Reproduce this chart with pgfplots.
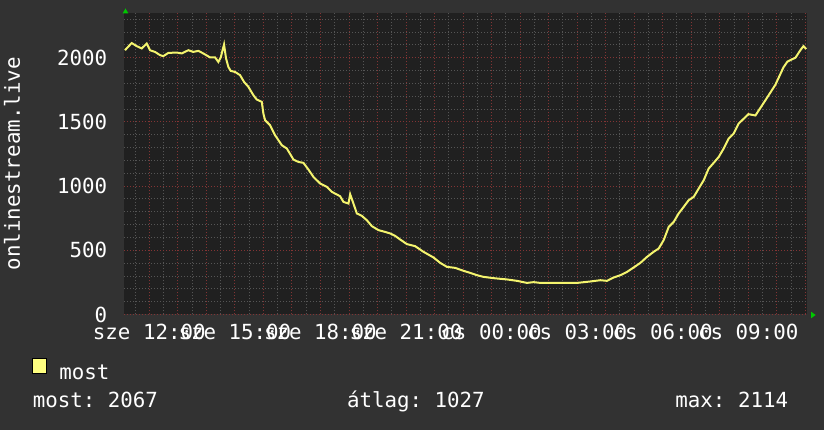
\documentclass[border=0pt]{standalone}
\usepackage{fontspec}
\setmainfont{DejaVu Sans Mono}
\usepackage{pgfplots}
\pgfplotsset{compat=1.18}
\frenchspacing
\definecolor{pagebg}{RGB}{50,50,50}
\definecolor{canvasbg}{RGB}{32,32,32}
\definecolor{mingrid}{RGB}{85,85,85}
\definecolor{majgrid}{RGB}{130,52,52}
\definecolor{lineyellow}{RGB}{244,244,110}
\definecolor{legyellow}{RGB}{255,255,128}
\definecolor{arrowgreen}{RGB}{0,200,0}
\newcommand\tickfont{\fontsize{20.8}{25}\selectfont}
\begin{document}
\begin{tikzpicture}
\fill[pagebg] (0pt,0pt) rectangle (824pt,430pt);
\begin{axis}[
  at={(124pt,115.5pt)}, anchor=south west, scale only axis,
  width=683pt, height=301.5pt,
  xmin=-0.887, xmax=23.06, ymin=0, ymax=2348,
  axis background/.style={fill=canvasbg},
  axis line style={draw=none},
  xtick={0,1,...,23},
  xticklabels={sze 12:00,,,sze 15:00,,,sze 18:00,,,sze 21:00,,,cs 00:00,,,cs 03:00,,,cs 06:00,,,cs 09:00,,},
  minor xtick={-0.5,0.5,...,22.5},
  ytick={0,500,1000,1500,2000},
  yticklabels={0,500,1000,1500,2000},
  minor ytick={100,200,...,2300},
  grid=both,
  major grid style={draw=majgrid, dash pattern=on 1pt off 2pt, line width=0.9pt},
  minor grid style={draw=mingrid, dash pattern=on 1pt off 2pt, line width=0.9pt},
  major tick length=0pt, minor tick length=0pt,
  tick style={draw=none},
  ticklabel style={font=\tickfont, text=white, inner sep=0pt},
  xticklabel style={anchor=north, yshift=-9.5pt},
  yticklabel style={anchor=east, xshift=-16.7pt},
  ylabel={onlinestream.live},
  every axis y label/.style={at={(axis description cs:-0.16398,0.5)}, rotate=90, anchor=center, font=\tickfont, text=white, inner sep=0pt},
  legend style={at={(axis description cs:-0.1347,-0.2206)}, anchor=south west, draw=none, fill=none, inner sep=0pt, outer sep=0pt, font=\tickfont, text=white, nodes={inner sep=0pt}, column sep=0pt},
  legend image code/.code={\draw[fill=legyellow, draw=black, line width=1pt] (0pt,-0.3pt) rectangle (14.5pt,14.7pt); \path (25.8pt,0pt);},
  clip=false,
]
\addplot[lineyellow, line width=2pt] table {
x y
-0.853 2058
-0.618 2114
-0.442 2090
-0.267 2072
-0.091 2110
0.025 2058
0.200 2045
0.375 2020
0.491 2012
0.667 2037
0.961 2040
1.137 2033
1.368 2058
1.544 2045
1.719 2053
1.895 2033
2.130 2002
2.305 2002
2.421 1967
2.505 2002
2.621 2103
2.691 1994
2.772 1928
2.856 1897
3.007 1889
3.182 1864
3.323 1811
3.474 1773
3.649 1708
3.768 1674
3.944 1656
4.000 1565
4.060 1513
4.235 1474
4.411 1396
4.646 1318
4.821 1293
5.053 1207
5.228 1188
5.404 1181
5.579 1129
5.754 1072
5.989 1020
6.225 994
6.400 955
6.691 921
6.807 877
6.982 864
7.042 937
7.137 877
7.277 787
7.453 768
7.628 734
7.804 688
8.035 657
8.270 643
8.446 631
8.621 612
8.796 584
9.032 548
9.323 532
9.614 488
9.965 444
10.200 402
10.435 371
10.726 363
11.018 340
11.253 324
11.488 306
11.719 293
12.070 283
12.540 273
12.891 262
13.242 246
13.474 252
13.709 246
14.411 246
14.996 246
15.463 257
15.814 267
16.049 262
16.281 288
16.516 306
16.751 332
16.982 366
17.218 402
17.453 449
17.684 488
17.860 514
18.035 579
18.211 682
18.386 721
18.561 787
18.737 838
18.912 890
19.088 916
19.263 981
19.439 1046
19.614 1137
19.789 1181
19.965 1227
20.140 1293
20.316 1371
20.491 1410
20.667 1488
20.786 1513
21.007 1560
21.252 1550
21.603 1669
21.954 1790
22.235 1925
22.375 1970
22.656 2000
22.832 2060
22.937 2090
23.030 2067
};
\addlegendentry{most}
\end{axis}
\fill[arrowgreen] (125.5pt,421.5pt) -- (122.7pt,416.7pt) -- (128.3pt,416.7pt) -- cycle;
\fill[arrowgreen] (815.7pt,115pt) -- (811pt,118.3pt) -- (811pt,111.7pt) -- cycle;
\node[anchor=base west, text=white, font=\tickfont, inner sep=0pt] at (32.6pt,22.7pt) {most: 2067};
\node[anchor=base west, text=white, font=\tickfont, inner sep=0pt] at (346.8pt,22.7pt) {átlag: 1027};
\node[anchor=base west, text=white, font=\tickfont, inner sep=0pt] at (675.2pt,22.7pt) {max: 2114};
\pgfresetboundingbox
\useasboundingbox (0pt,0pt) rectangle (824pt,430pt);
\end{tikzpicture}
\end{document}
